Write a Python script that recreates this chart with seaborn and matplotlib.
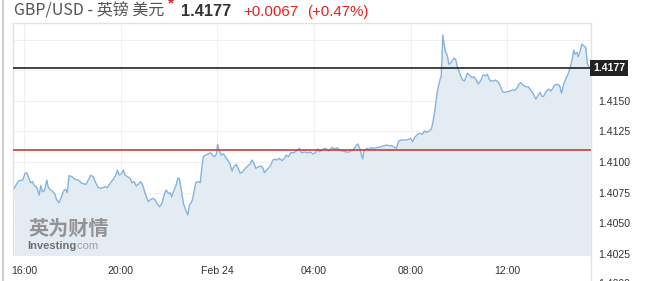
import matplotlib
matplotlib.use("Agg")
import matplotlib.pyplot as plt
import matplotlib.transforms as mtransforms
from matplotlib.lines import Line2D
import seaborn as sns
import pandas as pd

# ---- data -------------------------------------------------------------
# minutes since 16:00 (Feb 23); GBP/USD price
minutes = [
    -24, -17, -12, -3, 3, 7, 11, 17, 22, 25, 30, 33, 38, 42, 46, 51, 57, 60, 66, 71,
    77, 81, 87, 94, 100, 104, 108, 112, 119, 127, 135, 144, 154, 160, 166, 172, 179, 185, 193, 201,
    207, 214, 222, 229, 232, 237, 243, 247, 251, 257, 264, 268, 274, 279, 284, 290, 295, 301, 309, 315,
    320, 326, 330, 337, 343, 348, 353, 359, 363, 367, 373, 378, 382, 386, 391, 396, 402, 407, 411, 417,
    421, 427, 434, 438, 442, 446, 452, 457, 463, 468, 473, 478, 481, 485, 490, 496, 500, 507, 511, 517,
    521, 527, 532, 537, 543, 550, 556, 562, 566, 570, 576, 583, 589, 594, 597, 604, 612, 618, 623, 629,
    634, 641, 647, 651, 657, 662, 670, 678, 684, 689, 697, 706, 711, 718, 724, 730, 734, 740, 747, 751,
    757, 765, 771, 778, 784, 790, 798, 807, 813, 819, 826, 829, 834, 837, 841, 844, 851, 856, 862, 869,
    875, 881, 887, 894, 900, 906, 912, 918, 925, 931, 937, 943, 950, 956, 960, 965, 970, 977, 983, 989,
    995, 1000, 1006, 1012, 1015, 1020, 1024, 1028, 1033, 1036, 1038, 1040, 1045, 1047, 1051, 1055, 1061, 1068, 1072, 1076,
    1083, 1089, 1094, 1101, 1108, 1113, 1117, 1123, 1128, 1134, 1140, 1147, 1151, 1155, 1159, 1166, 1171, 1177, 1182, 1188,
    1194, 1201, 1207, 1213, 1219, 1224, 1229, 1234, 1239, 1246, 1252, 1258, 1264, 1271, 1277, 1282, 1285, 1290, 1296, 1302,
    1308, 1312, 1318, 1325, 1330, 1335, 1340, 1346, 1351, 1356, 1362, 1365, 1368, 1373, 1376, 1381, 1385, 1390, 1395, 1399,
    1403, 1406,
]
prices = [
    1.40784, 1.40825, 1.40847, 1.40852, 1.40907, 1.40912, 1.40880, 1.40830, 1.40839, 1.40811,
    1.40798, 1.40784, 1.40729, 1.40806, 1.40757, 1.40765, 1.40852, 1.40798, 1.40770, 1.40762,
    1.40735, 1.40694, 1.40666, 1.40721, 1.40770, 1.40776, 1.40748, 1.40888, 1.40880, 1.40858,
    1.40852, 1.40825, 1.40817, 1.40852, 1.40891, 1.40880, 1.40825, 1.40789, 1.40784, 1.40798,
    1.40789, 1.40825, 1.40858, 1.40899, 1.40934, 1.40893, 1.40907, 1.40934, 1.40893, 1.40880,
    1.40866, 1.40830, 1.40839, 1.40803, 1.40817, 1.40839, 1.40811, 1.40743, 1.40675, 1.40694,
    1.40702, 1.40689, 1.40661, 1.40634, 1.40661, 1.40729, 1.40770, 1.40743, 1.40748, 1.40716,
    1.40770, 1.40811, 1.40866, 1.40866, 1.40770, 1.40661, 1.40607, 1.40566, 1.40648, 1.40675,
    1.40729, 1.40834, 1.40839, 1.40830, 1.40961, 1.41049, 1.41057, 1.41066, 1.41076, 1.41057,
    1.41043, 1.41066, 1.41145, 1.41093, 1.41057, 1.41066, 1.41043, 1.41011, 1.40989, 1.40926,
    1.40961, 1.40981, 1.40948, 1.40907, 1.40920, 1.40948, 1.40967, 1.40984, 1.41016, 1.40998,
    1.40948, 1.40961, 1.40967, 1.40948, 1.40912, 1.40940, 1.40967, 1.41016, 1.41022, 1.41016,
    1.41030, 1.41011, 1.41030, 1.41057, 1.41043, 1.41076, 1.41076, 1.41093, 1.41112, 1.41076,
    1.41082, 1.41076, 1.41082, 1.41066, 1.41076, 1.41107, 1.41084, 1.41098, 1.41112, 1.41107,
    1.41090, 1.41120, 1.41107, 1.41117, 1.41098, 1.41090, 1.41084, 1.41080, 1.41093, 1.41104,
    1.41139, 1.41148, 1.41112, 1.41071, 1.41025, 1.41084, 1.41112, 1.41104, 1.41117, 1.41112,
    1.41117, 1.41120, 1.41125, 1.41134, 1.41139, 1.41134, 1.41134, 1.41125, 1.41112, 1.41175,
    1.41180, 1.41180, 1.41180, 1.41189, 1.41194, 1.41166, 1.41199, 1.41227, 1.41235, 1.41227,
    1.41254, 1.41243, 1.41254, 1.41271, 1.41317, 1.41412, 1.41522, 1.41604, 1.41672, 1.41699,
    1.41850, 1.42041, 1.41932, 1.41899, 1.41877, 1.41801, 1.41817, 1.41850, 1.41842, 1.41781,
    1.41719, 1.41672, 1.41664, 1.41727, 1.41707, 1.41691, 1.41699, 1.41672, 1.41639, 1.41664,
    1.41713, 1.41707, 1.41719, 1.41680, 1.41664, 1.41664, 1.41672, 1.41658, 1.41631, 1.41576,
    1.41571, 1.41576, 1.41582, 1.41590, 1.41588, 1.41604, 1.41637, 1.41650, 1.41631, 1.41617,
    1.41617, 1.41590, 1.41563, 1.41516, 1.41549, 1.41571, 1.41543, 1.41535, 1.41576, 1.41598,
    1.41582, 1.41598, 1.41631, 1.41637, 1.41625, 1.41563, 1.41637, 1.41686, 1.41719, 1.41768,
    1.41850, 1.41918, 1.41883, 1.41899, 1.41863, 1.41904, 1.41965, 1.41953, 1.41937, 1.41809,
    1.41780, 1.41770,
]

x_tick_minutes = [0, 240, 480, 720, 960, 1200]
x_tick_labels = ["16:00", "20:00", "Feb 24", "04:00", "08:00", "12:00"]
y_ticks = [1.4025, 1.4050, 1.4075, 1.4100, 1.4125, 1.4150, 1.4175, 1.4200]
y_tick_labels = ["1.4025", "1.4050", "1.4075", "1.4100", "1.4125", "1.4150", "", ""]

last_price = 1.4177
prev_close = 1.4110
title_main = "GBP/USD - 英镑 美元"
price_text = "1.4177"
change_text = "+0.0067"
change_pct_text = "(+0.47%)"

df = pd.DataFrame({"minutes": minutes, "price": prices})

# ---- style ------------------------------------------------------------
sns.set_style("white")
plt.rcParams["font.family"] = ["Liberation Sans", "Noto Sans CJK SC", "DejaVu Sans"]

W, H = 645, 281
fig = plt.figure(figsize=(W / 100, H / 100), dpi=100)
ax_l, ax_r, ax_t, ax_b = 13, 591, 23, 255
ax = fig.add_axes([ax_l / W, (H - ax_b) / H, (ax_r - ax_l) / W, (ax_b - ax_t) / H])

line_col = "#86b2dd"
fill_col = "#e4ecf3"

ax.fill_between(df["minutes"], df["price"], 1.40, color=fill_col, lw=0, zorder=1)
sns.lineplot(data=df, x="minutes", y="price", ax=ax, color=line_col, linewidth=1.0,
             estimator=None, sort=False, zorder=3)

ax.set_xlim(-27, 1408)
ax.set_ylim(1.40238, 1.42139)

ax.set_xticks(x_tick_minutes)
ax.set_xticklabels(x_tick_labels)
ax.set_yticks(y_ticks)
ax.set_yticklabels(y_tick_labels)
ax.yaxis.tick_right()
ax.tick_params(axis="both", length=0, labelsize=7.6, labelcolor="#333333")
ax.tick_params(axis="x", pad=8)
ax.tick_params(axis="y", pad=5)
ax.set_xlabel("")
ax.set_ylabel("")

ax.grid(True, color="#f0f0f0", lw=0.8, zorder=0)
ax.set_axisbelow(True)
for side in ["top", "left", "right"]:
    ax.spines[side].set_color("#e2e2e2")
    ax.spines[side].set_linewidth(1.0)
ax.spines["bottom"].set_visible(False)

# reference lines
ax.axhline(prev_close, color="#cc3b3b", lw=1.2, zorder=4)
ax.axhline(last_price, color="#222222", lw=1.2, zorder=4)

# price label box on right axis
blend = mtransforms.blended_transform_factory(ax.transAxes, ax.transData)
ax.text(1.004, last_price, price_text, transform=blend, ha="left", va="center",
        fontsize=7.6, color="white", fontweight="bold", clip_on=False,
        bbox=dict(boxstyle="square,pad=0.28", fc="#222222", ec="none"))
# partially visible label below the axes
ax.text(1.0 + 7 / (ax_r - ax_l), 1.4000, "1.4000", transform=blend, ha="left", va="center",
        fontsize=7.6, color="#333333", clip_on=False)

# watermark
ax.text(0.026, 0.115, "英为财情", transform=ax.transAxes, fontsize=14.5, fontweight="bold",
        color="#8a8a8a", alpha=0.9, family=["Noto Sans CJK SC", "DejaVu Sans"],
        ha="left", va="center", zorder=2)
ax.text(0.025, 0.04, "Investing", transform=ax.transAxes, fontsize=8, fontweight="bold",
        color="#707070", ha="left", va="center", zorder=2)
ax.text(0.025 + 47 / (ax_r - ax_l), 0.04, ".com", transform=ax.transAxes, fontsize=8,
        color="#a0a0a0", ha="left", va="center", zorder=2)

# header
fig.text(14 / W, 1 - 16 / H, title_main, fontsize=11.5, color="#555555", va="baseline",
         ha="left", family=["Noto Sans CJK SC", "DejaVu Sans"])
fig.text(171 / W, 1 - 3 / H, "*", fontsize=11, color="#e8201f", fontweight="bold",
         ha="center", va="center")
fig.text(181 / W, 1 - 16 / H, price_text, fontsize=11.8, color="#333333", fontweight="bold",
         va="baseline", ha="left")
fig.text(243 / W, 1 - 16 / H, change_text, fontsize=10.8, color="#e8201f",
         va="baseline", ha="left")
fig.text(307 / W, 1 - 16 / H, change_pct_text, fontsize=10.8, color="#e8201f",
         va="baseline", ha="left")

# frame lines
fig.add_artist(Line2D([3 / W, 3 / W], [0, 1], color="#cfcfcf", lw=1.5))
fig.add_artist(Line2D([ax_r / W, ax_r / W], [0, (H - ax_b) / H], color="#e2e2e2", lw=1.0))

fig.savefig("out.png", dpi=100)
